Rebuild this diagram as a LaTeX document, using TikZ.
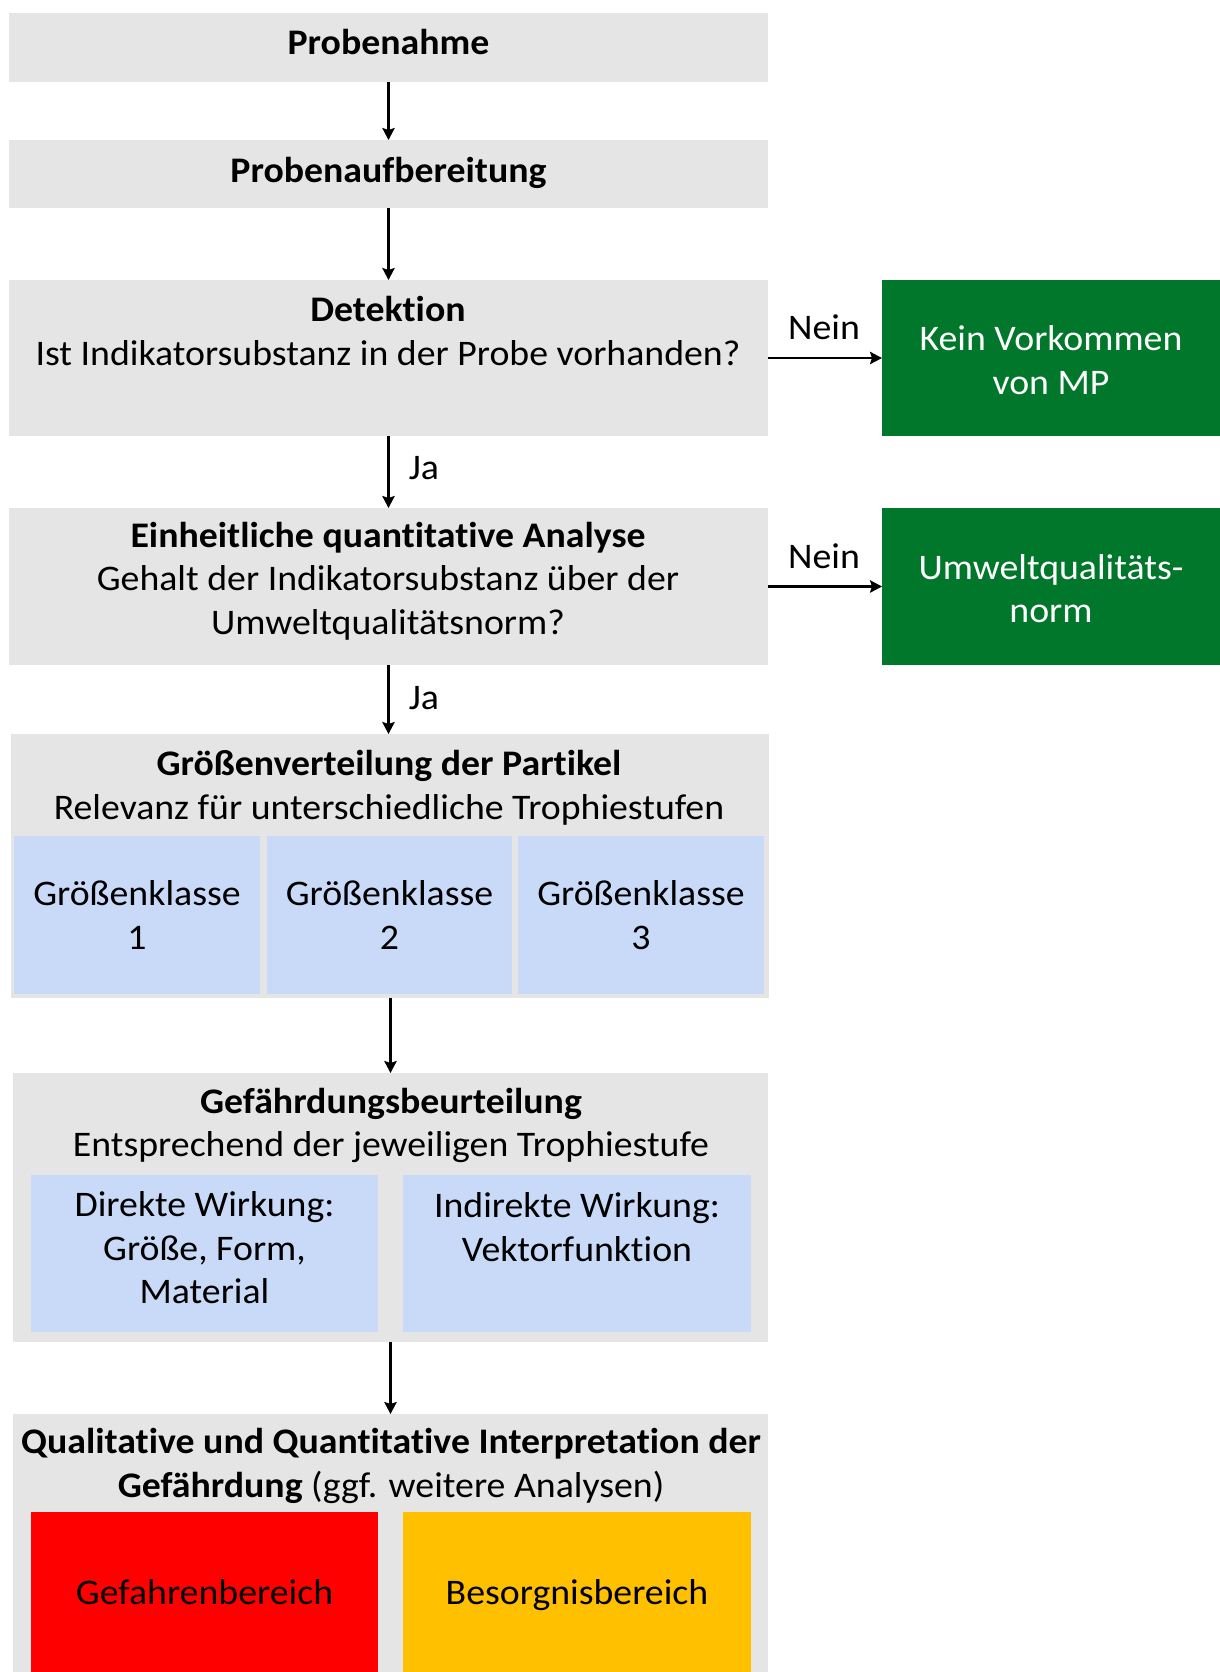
\documentclass[tikz,border=0pt]{standalone}
\usepackage{fontspec}
\setmainfont{Carlito}[FakeStretch=1.05, Ligatures={NoCommon,NoContextual,NoRare,NoRequired}]
\usetikzlibrary{fit,arrows.meta}
\definecolor{boxgray}{HTML}{E5E5E5}
\definecolor{umweltgreen}{HTML}{00772A}
\definecolor{cellblue}{HTML}{C9DAF8}
\definecolor{gefahrred}{HTML}{FF0000}
\definecolor{sorgeorange}{HTML}{FFC000}
\begin{document}
\begin{tikzpicture}[x=0.5pt,y=-0.5pt,
  every node/.style={font=\fontsize{18}{21.8}\selectfont, align=center},
  graybox/.style={fill=boxgray, draw=none, inner sep=0pt, outer sep=0pt},
  greenbox/.style={fill=umweltgreen, draw=none, inner sep=0pt, outer sep=0pt},
  bluecell/.style={fill=cellblue, draw=none, inner sep=0pt, outer sep=0pt},
  redcell/.style={fill=gefahrred, draw=none, inner sep=0pt, outer sep=0pt},
  orangecell/.style={fill=sorgeorange, draw=none, inner sep=0pt, outer sep=0pt},
  txt/.style={inner sep=0pt},
  oneline/.style={inner sep=0pt, text height=0.72em, text depth=0.22em},
  arr/.style={-{Stealth[length=6pt,width=6.2pt,inset=1pt]}, line width=1.1pt, black},
  lbl/.style={inner sep=0pt}
]
\useasboundingbox (0,0) rectangle (1220,1672);

% Step 1
\node[graybox, fit={(9,13) (768,82)}] (probenahme) {};
\node[oneline] (probenahmetxt) at (388.5,49) {\textbf{Probenahme}};
% Step 2
\node[graybox, fit={(9,140) (768,208)}] (aufbereitung) {};
\node[oneline] (aufbereitungtxt) at (388.5,177) {\textbf{Probenaufbereitung}};
% Step 3
\node[graybox, fit={(9,280) (768,436)}] (detektion) {};
\node[txt] (detektiontxt) at (388,331) {\textbf{Detektion}\\Ist Indikatorsubstanz in der Probe vorhanden?};
\node[greenbox, fit={(882,280) (1220,436)}] (keinmp) {};
\node[txt, text=white] (keinmptxt) at ([yshift=-1pt]keinmp.center) {Kein Vorkommen\\von MP};
% Step 4
\node[graybox, fit={(9,508) (768,665)}] (analyse) {};
\node[txt] (analysetxt) at (388,581) {\textbf{Einheitliche quantitative Analyse}\\Gehalt der Indikatorsubstanz über der\\Umweltqualitätsnorm?};
\node[greenbox, fit={(882,508) (1220,665)}] (uqn) {};
\node[txt, text=white] (uqntxt) at ([yshift=-1pt]uqn.center) {Umweltqualitäts-\\norm};
% Step 5
\node[graybox, fit={(11,734) (769,998)}] (groesse) {};
\node[txt] (groessetxt) at (389,788) {\textbf{Größenverteilung der Partikel}\\Relevanz für unterschiedliche Trophiestufen};
\node[bluecell, fit={(14,836) (260,994)}] (klasse1) {};
\node[bluecell, fit={(267,836) (512,994)}] (klasse2) {};
\node[bluecell, fit={(518,836) (764,994)}] (klasse3) {};
\node[txt] (klasse1txt) at (klasse1.center) {Größenklasse\\1};
\node[txt] (klasse2txt) at (klasse2.center) {Größenklasse\\2};
\node[txt] (klasse3txt) at (klasse3.center) {Größenklasse\\3};
% Step 6
\node[graybox, fit={(13,1073) (768,1342)}] (gefaehrdung) {};
\node[txt] (gefaehrdungtxt) at (391,1125.5) {\textbf{Gefährdungsbeurteilung}\\Entsprechend der jeweiligen Trophiestufe};
\node[bluecell, fit={(31,1175) (378,1332)}] (direkt) {};
\node[txt] (direkttxt) at (204.5,1248) {Direkte Wirkung:\\Größe, Form,\\Material};
\node[bluecell, fit={(403,1175) (751,1332)}] (indirekt) {};
\node[txt] (indirekttxt) at (577,1227) {Indirekte Wirkung:\\Vektorfunktion};
% Step 7
\node[graybox, fit={(13,1414) (768,1680)}] (interpretation) {};
\node[txt] (interpretationtxt) at (391,1466) {\textbf{Qualitative und Quantitative Interpretation der}\\\textbf{Gefährdung} (ggf. weitere Analysen)};
\node[redcell, fit={(31,1512) (378,1680)}] (gefahr) {};
\node[orangecell, fit={(403,1512) (751,1680)}] (sorge) {};
\node[oneline] (gefahrtxt) at (204.5,1599) {Gefahrenbereich};
\node[oneline] (sorgetxt) at (577,1599) {Besorgnisbereich};

% Connectors
\draw[arr] (probenahme.south) -- (aufbereitung.north);
\draw[arr] (aufbereitung.south) -- (detektion.north);
\draw[arr] (detektion.east) -- (keinmp.west);
\node[lbl] (nein1) at (824,327) {Nein};
\draw[arr] (detektion.south) -- (analyse.north);
\node[lbl] (ja1) at (424,468) {Ja};
\draw[arr] (analyse.east) -- (uqn.west);
\node[lbl] (nein2) at (824,556) {Nein};
\draw[arr] (analyse.south) -- (analyse.south |- groesse.north);
\node[lbl] (ja2) at (424,698) {Ja};
\draw[arr] (groesse.south -| gefaehrdung.north) -- (gefaehrdung.north);
\draw[arr] (gefaehrdung.south) -- (interpretation.north);
\end{tikzpicture}
\end{document}
